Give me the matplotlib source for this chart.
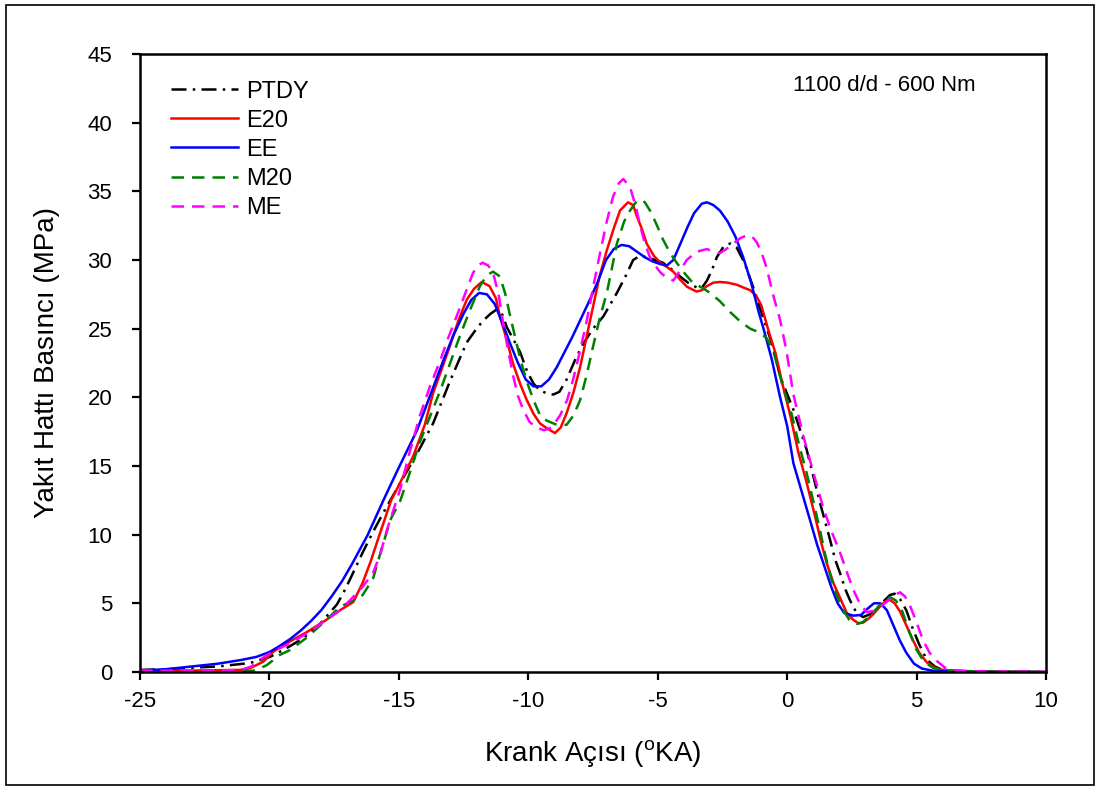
import matplotlib
matplotlib.use("Agg")
import matplotlib.pyplot as plt
from matplotlib.patches import Rectangle

plt.rcParams['font.family'] = ['Liberation Sans', 'DejaVu Sans']
plt.rcParams['mathtext.fontset'] = 'custom'
plt.rcParams['mathtext.rm'] = 'Liberation Sans'

# Crank angle (°KA) and fuel line pressure (MPa) for each fuel
ptdy_x = [-25, -24, -23.07, -22, -21.5, -20.75, -19.98, -19.46, -18.7, -18.05, -17.4, -17.15, -16.9,
          -16.4, -16.0, -15.6, -15.0, -14.3, -13.68, -13.0, -12.38, -12.0, -11.74, -11.45, -11.22,
          -11.0, -10.83, -10.6, -10.32, -10.05, -9.8, -9.55, -9.3, -9.04, -8.8, -8.52, -8.2, -7.88,
          -7.5, -7.1, -6.58, -6.25, -5.95, -5.7, -5.43, -5.1, -4.8, -4.45, -4.14, -3.8, -3.44, -3.25,
          -3.1, -2.9, -2.72, -2.45, -2.2, -1.95, -1.65, -1.32, -1.0, -0.55, -0.27, 0.24, 0.75, 1.27,
          1.66, 1.85, 2.04, 2.25, 2.43, 2.68, 2.93, 3.2, 3.45, 3.7, 3.97, 4.15, 4.36, 4.6, 4.86, 5.1,
          5.39, 5.7, 6.0, 6.5, 7, 8, 10]
ptdy_y = [0.15, 0.2, 0.3, 0.4, 0.5, 0.65, 1.1, 1.6, 2.45, 3.5, 4.9, 5.74, 6.7,
          8.7, 10.2, 11.6, 13.6, 15.9, 18.1, 21.3, 24.0, 25.0, 25.6, 26.1, 26.4,
          26.0, 25.1, 24.3, 23.3, 21.9, 21.0, 20.5, 20.3, 20.2, 20.4, 21.3, 22.7, 23.9,
          25.0, 25.9, 27.6, 28.8, 30.0, 30.3, 30.2, 30.0, 29.8, 29.3, 28.8, 28.3, 27.95, 28.1,
          28.5, 29.3, 30.2, 31.0, 31.2, 30.9, 29.8, 28.05, 26.2, 23.7, 21.5, 19.1, 16.2, 12.3,
          9.6, 8.2, 7.2, 6.0, 5.2, 4.3, 4.0, 4.2, 4.6, 5.1, 5.6, 5.7, 5.3, 4.5, 3.1, 2.0,
          0.9, 0.4, 0.15, 0.07, 0.04, 0.02, 0.0]

e20_x = [-25, -23, -21.1, -20.75, -20.24, -19.85, -19.33, -18.56, -17.8, -17.27, -16.76, -16.4,
         -16.1, -15.73, -15.3, -14.96, -14.45, -14.0, -13.68, -13.3, -13.0, -12.7, -12.38, -12.1,
         -11.8, -11.5, -11.25, -11.1, -10.85, -10.6, -10.3, -10.06, -9.8, -9.55, -9.25, -8.97,
         -8.75, -8.52, -8.25, -8.0, -7.75, -7.5, -7.25, -6.97, -6.7, -6.46, -6.15, -5.95, -5.81,
         -5.6, -5.43, -5.15, -4.9, -4.65, -4.4, -4.15, -3.88, -3.5, -3.3, -3.1, -2.85, -2.6, -2.3,
         -1.95, -1.7, -1.43, -1.2, -1.0, -0.73, -0.45, -0.15, 0.13, 0.43, 0.75, 1.08, 1.33, 1.53,
         1.8, 2.04, 2.3, 2.55, 2.75, 2.94, 3.15, 3.32, 3.6, 3.8, 3.97, 4.15, 4.36, 4.6, 4.86, 5.1,
         5.39, 5.7, 6.0, 6.7, 8, 10]
e20_y = [0.1, 0.1, 0.15, 0.27, 0.75, 1.48, 2.1, 2.9, 3.8, 4.5, 5.1, 6.5,
         8.0, 10.1, 12.5, 13.75, 15.7, 18.0, 20.3, 22.3, 23.9, 25.6, 27.1, 27.9,
         28.4, 28.1, 27.2, 25.9, 24.3, 22.5, 20.9, 19.8, 18.8, 18.1, 17.7, 17.4,
         17.8, 18.85, 20.4, 22.2, 24.4, 26.6, 28.8, 30.7, 32.3, 33.6, 34.2, 34.0, 33.2,
         32.2, 31.2, 30.3, 29.8, 29.5, 29.15, 28.6, 28.06, 27.7, 27.8, 28.1, 28.35, 28.4, 28.35,
         28.2, 28.0, 27.8, 27.4, 26.7, 24.9, 23.2, 20.7, 18.6, 16.0, 13.8, 11.3, 9.3, 7.9,
         6.4, 5.4, 4.3, 3.8, 3.55, 3.6, 3.9, 4.2, 4.8, 5.15, 5.25, 5.0, 4.4, 3.4, 2.3, 1.4,
         0.7, 0.3, 0.15, 0.07, 0.02, 0.0]

ee_x = [-25, -24, -23, -22, -21.1, -20.5, -20.0, -19.6, -19.2, -18.8, -18.4, -18.0, -17.6, -17.2,
        -16.8, -16.2, -15.6, -15.0, -14.3, -13.7, -13.3, -12.9, -12.5, -12.2, -11.9, -11.6, -11.3,
        -11.0, -10.7, -10.4, -10.1, -9.8, -9.5, -9.2, -8.9, -8.6, -8.3, -7.9, -7.6, -7.3, -7.0,
        -6.7, -6.4, -6.1, -5.8, -5.5, -5.2, -4.9, -4.65, -4.4, -4.1, -3.85, -3.6, -3.3, -3.1, -2.85,
        -2.6, -2.3, -2.0, -1.7, -1.4, -1.1, -0.9, -0.6, -0.28, 0.0, 0.24, 0.55, 0.88, 1.15, 1.4,
        1.7, 1.95, 2.2, 2.55, 2.85, 3.1, 3.35, 3.6, 3.85, 4.1, 4.35, 4.6, 4.9, 5.2, 5.6, 6.0, 7,
        8, 10]
ee_y = [0.1, 0.2, 0.4, 0.6, 0.87, 1.1, 1.45, 1.9, 2.4, 3.0, 3.7, 4.5, 5.5, 6.6,
        7.9, 10.0, 12.5, 14.9, 17.6, 20.6, 22.6, 24.5, 26.1, 27.1, 27.6, 27.5, 26.8,
        25.4, 23.9, 22.5, 21.3, 20.8, 20.8, 21.3, 22.2, 23.3, 24.4, 26.0, 27.2, 28.5, 30.0,
        30.8, 31.1, 31.0, 30.6, 30.2, 29.9, 29.7, 29.6, 30.0, 31.3, 32.4, 33.4, 34.1, 34.2, 34.0,
        33.6, 32.8, 31.7, 30.2, 28.4, 26.2, 24.9, 22.8, 20.05, 17.9, 15.2, 13.2, 11.07, 9.3, 7.9,
        6.2, 5.0, 4.3, 4.1, 4.15, 4.6, 5.0, 5.0, 4.5, 3.4, 2.3, 1.4, 0.6, 0.25, 0.1, 0.05, 0.02,
        0.0, 0.0]

m20_x = [-25, -22, -21.1, -20.6, -20.36, -20.1, -19.6, -19.2, -18.56, -17.8, -17.27, -16.76, -16.4,
         -16.0, -15.6, -15.3, -14.96, -14.6, -14.2, -13.8, -13.4, -13.0, -12.6, -12.2, -11.87, -11.6,
         -11.36, -11.1, -10.9, -10.7, -10.5, -10.3, -10.05, -9.8, -9.55, -9.29, -8.9, -8.52, -8.25,
         -8.0, -7.75, -7.5, -7.25, -6.97, -6.75, -6.58, -6.3, -6.07, -5.85, -5.68, -5.5, -5.3, -5.05,
         -4.8, -4.55, -4.27, -3.95, -3.63, -3.3, -2.98, -2.6, -2.2, -1.8, -1.43, -1.05, -0.79, -0.54,
         -0.2, 0.17, 0.45, 0.75, 1.0, 1.27, 1.46, 1.7, 1.95, 2.2, 2.43, 2.68, 2.9, 3.15, 3.4, 3.7,
         3.97, 4.2, 4.45, 4.7, 5.0, 5.3, 5.64, 6.0, 7, 8, 10]
m20_y = [0.02, 0.02, 0.03, 0.1, 0.27, 0.5, 1.24, 1.6, 2.5, 3.8, 4.75, 5.2, 5.6,
         6.8, 9.4, 11.2, 12.4, 14.4, 16.7, 18.6, 20.5, 22.6, 24.7, 26.6, 28.1, 28.9,
         29.15, 28.8, 27.6, 25.9, 24.3, 22.7, 21.1, 19.8, 18.7, 18.3, 18.0, 18.0, 18.7,
         19.8, 21.6, 23.7, 25.7, 27.6, 29.6, 31.2, 32.8, 33.6, 34.2, 34.4, 34.2, 33.6, 32.6,
         31.5, 30.6, 29.8, 29.0, 28.3, 28.0, 27.6, 27.0, 26.2, 25.5, 25.0, 24.7, 24.3, 23.4,
         21.0, 18.8, 16.6, 14.5, 12.5, 10.3, 8.6, 6.8, 5.4, 4.4, 3.7, 3.5, 3.6, 4.0, 4.5, 5.1,
         5.45, 5.2, 4.4, 3.0, 1.6, 0.7, 0.3, 0.12, 0.05, 0.02, 0.0]

me_x = [-25, -22, -21.1, -20.7, -20.36, -19.86, -19.33, -18.56, -17.8, -17.27, -16.9, -16.4, -16.0,
        -15.7, -15.47, -14.96, -14.6, -14.2, -13.8, -13.4, -13.1, -12.77, -12.45, -12.14, -11.95,
        -11.77, -11.55, -11.36, -11.15, -10.97, -10.78, -10.58, -10.4, -10.2, -9.95, -9.68, -9.4,
        -9.1, -8.77, -8.5, -8.27, -8.0, -7.74, -7.5, -7.23, -6.97, -6.73, -6.5, -6.33, -6.07, -5.85,
        -5.68, -5.5, -5.3, -5.1, -4.9, -4.65, -4.4, -4.15, -3.88, -3.5, -3.1, -2.85, -2.6, -2.35,
        -2.09, -1.8, -1.56, -1.35, -1.18, -1.0, -0.79, -0.55, -0.27, -0.03, 0.24, 0.62, 1.0, 1.4,
        1.7, 2.04, 2.3, 2.55, 2.8, 3.07, 3.35, 3.6, 3.9, 4.15, 4.36, 4.55, 4.75, 5.0, 5.25, 5.5,
        5.78, 6.1, 6.5, 7, 8, 10]
me_y = [0.1, 0.1, 0.15, 0.4, 0.9, 1.5, 1.97, 2.8, 3.8, 4.5, 5.2, 6.2, 7.2,
        8.7, 10.3, 13.25, 15.9, 18.6, 20.8, 22.7, 24.3, 25.9, 27.5, 29.05, 29.6,
        29.8, 29.6, 29.05, 27.5, 25.4, 23.4, 21.5, 20.1, 19.1, 18.2, 17.8, 17.6,
        17.8, 18.7, 19.8, 21.3, 23.4, 25.6, 28.0, 30.5, 32.8, 34.6, 35.6, 35.9, 35.3, 33.9,
        32.5, 31.2, 30.2, 29.6, 29.1, 28.7, 28.5, 29.2, 30.0, 30.6, 30.8, 30.6, 30.5, 30.8,
        31.2, 31.6, 31.8, 31.7, 31.3, 30.6, 29.4, 27.5, 25.6, 23.4, 20.2, 17.2, 14.6, 11.9,
        10.3, 8.7, 7.3, 6.0, 5.0, 4.35, 4.45, 4.75, 5.2, 5.6, 5.8, 5.5, 4.8, 3.6, 2.3, 1.4,
        0.8, 0.3, 0.12, 0.06, 0.02, 0.0]

x_ticks = [-25, -20, -15, -10, -5, 0, 5, 10]
y_ticks = [0, 5, 10, 15, 20, 25, 30, 35, 40, 45]

fig = plt.figure(figsize=(11.01, 7.91), dpi=100)
ax = fig.add_axes([0.1272, 0.1505, 0.8229, 0.7812])

lw = 1.8
ax.plot(ptdy_x, ptdy_y, color='black', lw=lw, linestyle=(0, (6, 2.5, 1, 2.5)), label='PTDY')
ax.plot(e20_x, e20_y, color='red', lw=lw, label='E20')
ax.plot(ee_x, ee_y, color='blue', lw=lw, label='EE')
ax.plot(m20_x, m20_y, color='green', lw=lw, linestyle=(0, (5, 3.2)), label='M20')
ax.plot(me_x, me_y, color='magenta', lw=lw, linestyle=(0, (5, 3.2)), label='ME')

ax.set_xlim(-25, 10)
ax.set_ylim(0, 45)
ax.set_xticks(x_ticks)
ax.set_yticks(y_ticks)
ax.set_xticklabels([str(v) for v in x_ticks])
ax.set_yticklabels([str(v) for v in y_ticks])
ax.tick_params(axis='both', direction='out', length=6, width=1.6, labelsize=16, color='black')
ax.tick_params(axis='y', pad=14)
ax.tick_params(axis='x', pad=8)
for s in ax.spines.values():
    s.set_linewidth(1.8)

ax.set_ylabel('Yakıt Hattı Basıncı (MPa)', fontsize=20, labelpad=20)
ax.set_xlabel(r'Krank Açısı ($^{\mathrm{o}}$KA)', fontsize=20, labelpad=19)

ax.text(3.74, 42.7, '1100 d/d - 600 Nm', fontsize=16, ha='center', va='center')

leg = ax.legend(loc='upper left', bbox_to_anchor=(0.034, 0.957), frameon=False, fontsize=17,
                handlelength=2.85, handletextpad=0.35, labelspacing=0.30, borderpad=0,
                borderaxespad=0)

fig.patches.append(Rectangle((6 / 1101, 1 - 785 / 791), 1088 / 1101, 780 / 791,
                             transform=fig.transFigure, fill=False, edgecolor='black', lw=1.2))

fig.savefig('out.png', dpi=100)
